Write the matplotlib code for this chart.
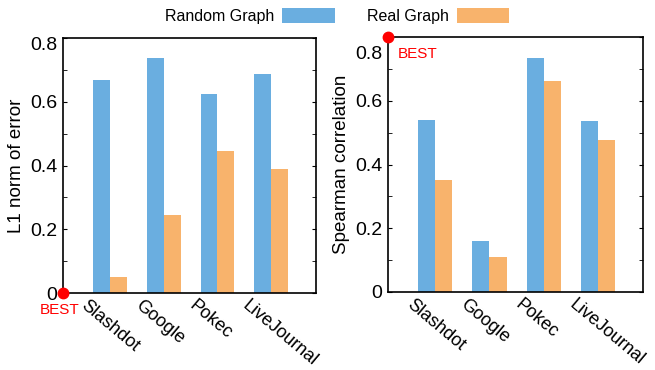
import numpy as np
import matplotlib.pyplot as plt
import matplotlib.transforms as mtransforms
from matplotlib.ticker import MultipleLocator

plt.rcParams['font.family'] = ['Liberation Sans', 'DejaVu Sans']

datasets = ['Slashdot', 'Google', 'Pokec', 'LiveJournal']
l1_random = [0.668, 0.737, 0.624, 0.687]
l1_real = [0.051, 0.246, 0.447, 0.390]
sp_random = [0.539, 0.160, 0.734, 0.535]
sp_real = [0.350, 0.110, 0.662, 0.476]

blue = '#6aaee0'
orange = '#f8b36c'

ind = np.arange(len(datasets))
width = 0.315

fig = plt.figure(figsize=(6.55, 3.7), dpi=100)
ax1 = fig.add_axes([63 / 655, 1 - 293 / 370, 253 / 655, 255 / 370])
ax2 = fig.add_axes([388 / 655, 1 - 292 / 370, 255 / 655, 255 / 370])


def style(ax, ylabel, label_shift):
    ax.set_ylim(0, 0.8)
    ax.set_xlim(-0.87, 3.83)
    ax.yaxis.set_major_locator(MultipleLocator(0.2))
    ax.yaxis.set_minor_locator(MultipleLocator(0.1))
    ax.set_yticks([0, 0.2, 0.4, 0.6, 0.8])
    ax.set_yticklabels(['0', '0.2', '0.4', '0.6', '0.8'])
    ax.tick_params(axis='y', which='both', direction='in', right=True,
                   labelsize=14, pad=4, length=3)
    ax.set_xticks(ind)
    ax.set_xticklabels(datasets, rotation=-40, ha='left', va='top',
                       rotation_mode='anchor', fontsize=13)
    ax.tick_params(axis='x', length=0, pad=3)
    off = mtransforms.ScaledTranslation(-21 / 100, 0, fig.dpi_scale_trans)
    for lab in ax.get_xticklabels():
        lab.set_transform(lab.get_transform() + off)
    lab = ax.get_yticklabels()[-1]
    lab.set_transform(lab.get_transform() +
                      mtransforms.ScaledTranslation(0, -label_shift / 100, fig.dpi_scale_trans))
    ax.set_ylabel(ylabel, fontsize=13.5, labelpad=4)
    for s in ax.spines.values():
        s.set_linewidth(1.2)


r1 = ax1.bar(ind - width / 2, l1_random, width, color=blue)
r2 = ax1.bar(ind + width / 2, l1_real, width, color=orange)
style(ax1, 'L1 norm of error', 5)

ax2.bar(ind - width / 2, sp_random, width, color=blue)
ax2.bar(ind + width / 2, sp_real, width, color=orange)
style(ax2, 'Spearman correlation', 15)

# "BEST" markers
ax1.plot([0], [0], 'o', color='red', markersize=7.5, transform=ax1.transAxes,
         clip_on=False, zorder=5)
ax1.text(-0.015, -0.04, 'BEST', color='red', fontsize=11, transform=ax1.transAxes,
         ha='center', va='top')
ax2.plot([0], [1], 'o', color='red', markersize=7.5, transform=ax2.transAxes,
         clip_on=False, zorder=5)
ax2.text(0.04, 0.96, 'BEST', color='red', fontsize=11, transform=ax2.transAxes,
         ha='left', va='top')

fig.legend((r1[0], r2[0]), ('Random Graph', 'Real Graph'), loc='upper center',
           bbox_to_anchor=(337 / 655, 1.0), ncol=2, frameon=False,
           markerfirst=False, handlelength=3.3, handleheight=1.1,
           columnspacing=2.0, handletextpad=0.5, fontsize=11.5,
           borderaxespad=0.1)

fig.savefig('out.png', dpi=100)
